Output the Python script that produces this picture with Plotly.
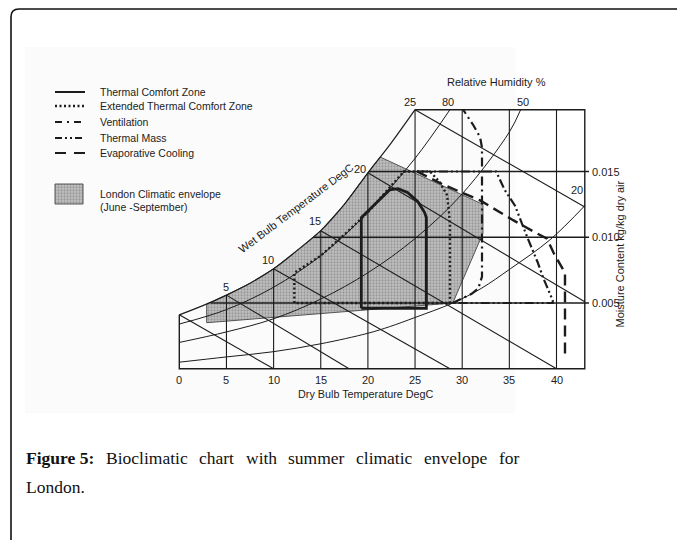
import plotly.graph_objects as go

# ---------------- data ----------------
T_TICKS = [0, 5, 10, 15, 20, 25, 30, 35, 40]
T_TICK_LABELS = ["0", "5", "10", "15", "20", "25", "30", "35", "40"]
W_TICKS = [0.005, 0.010, 0.015]
W_TICK_LABELS = ["0.005", "0.010", "0.015"]
T_MAX = 43.0
W_TOP = 0.0197

# saturation curve (100 % RH)
SAT_T = [0, 2.5, 5, 7.5, 10, 12.5, 15, 17.5, 20, 22.5, 25]
SAT_W = [0.0041, 0.0048, 0.0056, 0.0065, 0.0076, 0.0090, 0.0105, 0.0125, 0.0149, 0.0172, 0.0197]

# relative humidity curves
RH80_T = [0, 5, 10, 15, 20, 25, 28.7]
RH80_W = [0.0034, 0.0045, 0.0062, 0.0086, 0.0119, 0.0160, 0.0197]
RH50_T = [0, 5, 10, 15, 20, 25, 30, 35, 36.2]
RH50_W = [0.0020, 0.0028, 0.0038, 0.0053, 0.0073, 0.0099, 0.0133, 0.0180, 0.0197]
RH20_T = [0, 5, 10, 15, 20, 22.3, 25, 29, 32, 35.1, 39.3, 43]
RH20_W = [0.0005, 0.0009, 0.0013, 0.0019, 0.0027, 0.0032, 0.0039, 0.0050, 0.0061, 0.0076, 0.0098, 0.0124]

# wet bulb lines (start on saturation curve, end on axis / border)
WB_LABELS = ["", "5", "10", "15", "20", "25"]
WB_T0 = [0, 5, 10, 15, 20, 25]
WB_W0 = [0.0041, 0.0056, 0.0076, 0.0105, 0.0149, 0.0197]
WB_T1 = [10, 18, 28.7, 40, 43, 43]
WB_W1 = [0, 0, 0, 0, 0.0051, 0.0123]

# top of each dry-bulb grid line
VGRID_T = [5, 10, 15, 20, 25, 30, 35, 40]
VGRID_TOP = [0.0056, 0.0076, 0.0105, 0.0149, 0.0197, 0.0197, 0.0197, 0.0197]
# start of each moisture grid line (on saturation curve)
HGRID_T0 = [3.3, 14.2, 20.1]

# London climatic envelope (June - September)
ENV_T = [2.9, 2.9, 5, 7.5, 10, 12.5, 15, 17.5, 20, 21.3, 32.2, 32.2, 29.0, 2.9]
ENV_W = [0.0035, 0.0049, 0.0056, 0.0065, 0.0076, 0.0090, 0.0105, 0.0125, 0.0149, 0.0161,
         0.0125, 0.0103, 0.0050, 0.0035]

# thermal comfort zone
COMF_T = [19.3, 19.3, 22.3, 23.2, 24.2, 25.3, 26.0, 26.2, 26.2, 19.3]
COMF_W = [0.0046, 0.0115, 0.0136, 0.0137, 0.0134, 0.0127, 0.0119, 0.0115, 0.0046, 0.0046]

# extended thermal comfort zone
EXT_T = [12.2, 12.2, 15, 17.5, 20, 22.5, 23.8, 25.2, 26.6, 27.6, 28.4, 28.6, 28.7, 28.7, 12.2]
EXT_W = [0.0050, 0.0073, 0.0086, 0.0102, 0.0119, 0.0139, 0.0150, 0.0150, 0.0150, 0.0142,
         0.0132, 0.0119, 0.0110, 0.0050, 0.0050]

# ventilation
VENT_T = [29.0, 31.0, 31.7, 32.1, 32.1, 31.9, 31.2, 30.1]
VENT_W = [0.0050, 0.0057, 0.0061, 0.0070, 0.0168, 0.0176, 0.0185, 0.0197]

# thermal mass
MASS_T = [25.2, 33.6, 34.5, 35.6, 36.9, 37.5, 38.0, 38.6, 39.1, 39.6, 39.6, 29.0]
MASS_W = [0.0150, 0.0150, 0.0136, 0.0124, 0.0100, 0.0090, 0.0081, 0.0069, 0.0061, 0.0052, 0.0050, 0.0050]

# evaporative cooling
EVAP_T = [25.2, 28.0, 31.9, 35.4, 37.9, 39.0, 39.7, 40.3, 40.9, 40.9]
EVAP_W = [0.0150, 0.0140, 0.0128, 0.0113, 0.0103, 0.0099, 0.0088, 0.0080, 0.0073, 0.0009]

LEGEND_ITEMS = ["Thermal Comfort Zone", "Extended Thermal Comfort Zone", "Ventilation",
                "Thermal Mass", "Evaporative Cooling"]
ENVELOPE_LABEL = ["London Climatic envelope", "(June -September)"]

CAPTION_WORDS = ["<b>Figure 5:</b>", "Bioclimatic", "chart", "with", "summer", "climatic",
                 "envelope", "for"]
CAPTION_LINE2 = "London."

# ---------------- layout helpers ----------------
W_PX, H_PX = 677, 540
X0_PX, PX_PER_DEG = 179.3, 9.43
Y0_PX, PX_PER_W = 368.75, 13150.0
X_RANGE = [-X0_PX / PX_PER_DEG, (W_PX - X0_PX) / PX_PER_DEG]
Y_RANGE = [(Y0_PX - H_PX) / PX_PER_W, Y0_PX / PX_PER_W]

INK = "#1c1c1c"
SANS = "Liberation Sans, Arial, sans-serif"
SERIF = "Liberation Serif, Times New Roman, serif"

DASH_EXT = "2px,2.5px"
DASH_VENT = "9px,4px,2px,4px"
DASH_MASS = "9px,3px,2px,3px,2px,3px"
DASH_EVAP = "11px,6px"


def lines(xs, ys, width=1.0, dash="solid", shape="linear", color=INK, axes=("x", "y")):
    return go.Scatter(x=xs, y=ys, mode="lines", xaxis=axes[0], yaxis=axes[1],
                      line=dict(width=width, color=color, dash=dash, shape=shape),
                      hoverinfo="skip", showlegend=False, cliponaxis=False)


def join(segments):
    xs, ys = [], []
    for sx, sy in segments:
        xs += list(sx) + [None]
        ys += list(sy) + [None]
    return xs, ys


fig = go.Figure()

# envelope
pattern = dict(shape=".", fgcolor="#6e6e6e", bgcolor="#c2c2c2", size=3, solidity=0.45)
fig.add_trace(go.Scatter(x=ENV_T, y=ENV_W, mode="lines", fill="toself",
                         fillcolor="#aaaaaa", fillpattern=pattern,
                         line=dict(color="#555", width=1), hoverinfo="skip",
                         showlegend=False))

# grid: vertical dry-bulb lines
vx, vy = join([([t, t], [0, top]) for t, top in zip(VGRID_T, VGRID_TOP)])
fig.add_trace(lines(vx, vy, width=1.1))
# grid: horizontal moisture lines (extend a little past the border as ticks)
hx, hy = join([([t0, T_MAX + 0.45], [w, w]) for t0, w in zip(HGRID_T0, W_TICKS)])
fig.add_trace(lines(hx, hy, width=1.6))
# frame
fig.add_trace(lines([0, 0, T_MAX, T_MAX, SAT_T[-1]], [SAT_W[0], 0, 0, W_TOP, W_TOP], width=1.4))
# saturation + RH curves
fig.add_trace(lines(SAT_T, SAT_W, width=1.2, shape="spline"))
fig.add_trace(lines(RH80_T, RH80_W, width=1.0, shape="spline"))
fig.add_trace(lines(RH50_T, RH50_W, width=1.0, shape="spline"))
fig.add_trace(lines(RH20_T, RH20_W, width=1.0, shape="spline"))
# wet bulb lines
wx, wy = join([([a, b], [c, d]) for a, b, c, d in zip(WB_T0, WB_T1, WB_W0, WB_W1)])
fig.add_trace(lines(wx, wy, width=1.1))

# bioclimatic zones
fig.add_trace(lines(EXT_T, EXT_W, width=2.4, dash=DASH_EXT))
fig.add_trace(lines(VENT_T, VENT_W, width=2.2, dash=DASH_VENT))
fig.add_trace(lines(MASS_T, MASS_W, width=2.2, dash=DASH_MASS))
fig.add_trace(lines(EVAP_T, EVAP_W, width=2.4, dash=DASH_EVAP))
fig.add_trace(lines(COMF_T, COMF_W, width=2.8))

# ---------------- legend drawn in pixel space (x2/y2) ----------------
LEG_X = [55, 85]
LEG_Y = [92, 106, 122, 138, 153]
LEG_DASH = ["solid", DASH_EXT, "7px,5px,2px,5px", "7px,3px,2px,3px,2px,3px", "11px,8px"]
LEG_W = [2.0, 2.4, 2.0, 2.0, 2.0]
for yy, dsh, lw in zip(LEG_Y, LEG_DASH, LEG_W):
    fig.add_trace(lines(LEG_X, [yy, yy], width=lw, dash=dsh, axes=("x2", "y2")))
fig.add_trace(go.Scatter(x=[55, 83, 83, 55, 55], y=[184, 184, 204, 204, 184], xaxis="x2",
                         yaxis="y2", mode="lines", fill="toself", fillcolor="#aaaaaa",
                         fillpattern=pattern, line=dict(color="#555", width=1),
                         hoverinfo="skip", showlegend=False))

ann = []


def px_text(text, x, y, size=10.5, xanchor="left", font=SANS, angle=0, color=INK):
    ann.append(dict(text=text, x=x / W_PX, y=1 - y / H_PX, xref="paper", yref="paper",
                    xanchor=xanchor, yanchor="middle", showarrow=False, textangle=angle,
                    font=dict(family=font, size=size, color=color)))


def data_text(text, x, y, size=11, xanchor="center", angle=0):
    ann.append(dict(text=text, x=x, y=y, xref="x", yref="y", xanchor=xanchor,
                    yanchor="middle", showarrow=False, textangle=angle,
                    font=dict(family=SANS, size=size, color=INK)))


for txt, yy in zip(LEGEND_ITEMS, LEG_Y):
    px_text(txt, 98, yy)
px_text(ENVELOPE_LABEL[0], 98, 194)
px_text(ENVELOPE_LABEL[1], 98, 207)

# axis text
for t, lab in zip(T_TICKS, T_TICK_LABELS):
    data_text(lab, t, -0.00086)
data_text("Dry Bulb Temperature DegC", 19.8, -0.00192, size=10.8)
for w, lab in zip(W_TICKS, W_TICK_LABELS):
    data_text(lab, T_MAX + 0.6, w, xanchor="left")
data_text("Moisture Content kg/kg dry air", 46.75, 0.0087, size=11, angle=-90)
data_text("20", 42.2, 0.0136)
px_text("Relative Humidity %", 496.7, 81.7, size=11, xanchor="center")
data_text("80", RH80_T[-1] - 0.2, W_TOP + 0.0006)
data_text("50", RH50_T[-1] + 0.2, W_TOP + 0.0006)
WB_LAB_DT = [0, -0.1, -0.55, -0.6, -0.85, -0.55]
WB_LAB_DW = [0, 0.0006, 0.0007, 0.0007, 0.0003, 0.0006]
for t0, w0, lab, dt, dw in zip(WB_T0, WB_W0, WB_LABELS, WB_LAB_DT, WB_LAB_DW):
    if lab:
        data_text(lab, t0 + dt, w0 + dw)
data_text("Wet Bulb Temperature DegC", 12.4, 0.0122, size=11, angle=-37)

# caption (justified line: word starts spread evenly)
CAP_X = [24, 104, 197, 244, 286, 354, 422, 497]
for word, xx in zip(CAPTION_WORDS, CAP_X):
    px_text(word, xx, 458, size=17.5, font=SERIF, color="#111")
px_text(CAPTION_LINE2, 24, 487, size=17.5, font=SERIF, color="#111")

shapes = [
    dict(type="rect", xref="x2", yref="y2", x0=25, x1=515, y0=47, y1=413,
         fillcolor="#fbfbfb", line=dict(width=0), layer="below"),
    dict(type="path", xref="x2", yref="y2", path="M 11,542 L 11,17 Q 11,9 19,9 L 679,9",
         line=dict(color="#111", width=1.6)),
]

fig.update_layout(
    width=W_PX, height=H_PX, margin=dict(l=0, r=0, t=0, b=0),
    paper_bgcolor="white", plot_bgcolor="rgba(0,0,0,0)", showlegend=False,
    xaxis=dict(range=X_RANGE, visible=False, fixedrange=True),
    yaxis=dict(range=Y_RANGE, visible=False, fixedrange=True),
    xaxis2=dict(range=[0, W_PX], visible=False, overlaying="x", anchor="y2", fixedrange=True),
    yaxis2=dict(range=[H_PX, 0], visible=False, overlaying="y", anchor="x2", fixedrange=True),
    annotations=ann, shapes=shapes,
)

fig.write_html("out.html", config={"displayModeBar": False, "staticPlot": True},
               post_script="document.body.style.margin='0px';")
